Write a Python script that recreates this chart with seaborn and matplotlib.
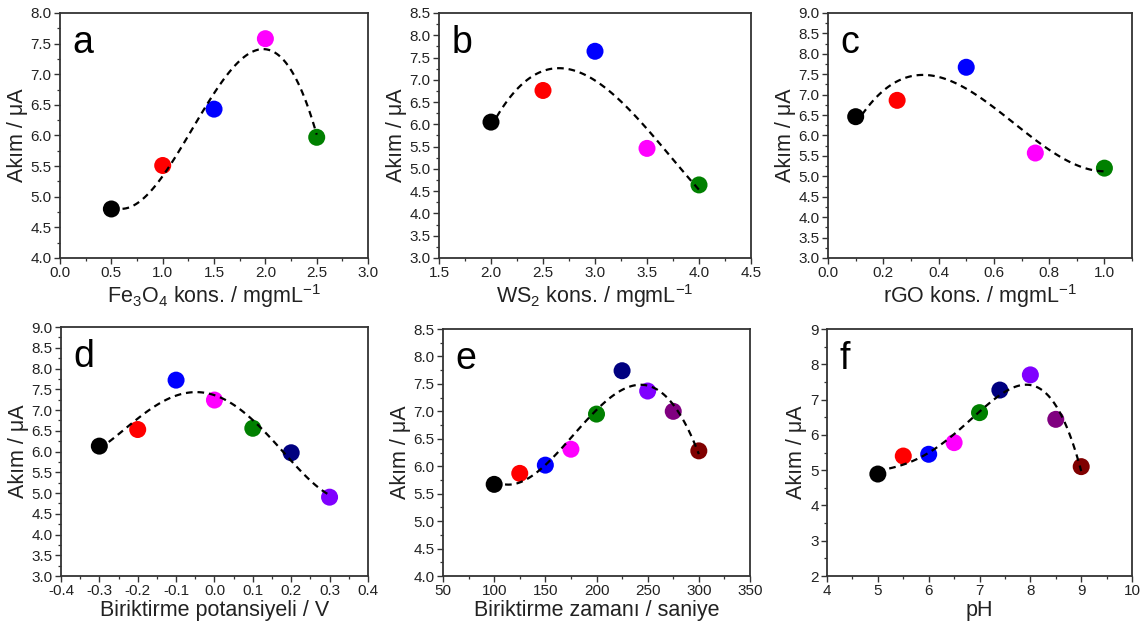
import numpy as np
import pandas as pd
import matplotlib
matplotlib.use("Agg")
import matplotlib.pyplot as plt
from matplotlib.ticker import MultipleLocator, AutoMinorLocator, FuncFormatter
import seaborn as sns

sns.set_theme(style="white")
plt.rcParams["font.family"] = ["Liberation Sans", "DejaVu Sans"]
plt.rcParams["mathtext.fontset"] = "custom"
plt.rcParams["mathtext.rm"] = "Liberation Sans"
plt.rcParams["mathtext.default"] = "regular"

# --- data -------------------------------------------------------------
fe3o4_x = [0.5, 1.0, 1.5, 2.0, 2.5]
fe3o4_y = [4.80, 5.51, 6.43, 7.58, 5.97]

ws2_x = [2.0, 2.5, 3.0, 3.5, 4.0]
ws2_y = [6.05, 6.76, 7.64, 5.46, 4.64]

rgo_x = [0.1, 0.25, 0.5, 0.75, 1.0]
rgo_y = [6.46, 6.86, 7.67, 5.57, 5.20]

pot_x = [-0.3, -0.2, -0.1, 0.0, 0.1, 0.2, 0.3]
pot_y = [6.13, 6.53, 7.72, 7.24, 6.56, 5.97, 4.90]

time_x = [100, 125, 150, 175, 200, 225, 250, 275, 300]
time_y = [5.67, 5.87, 6.02, 6.31, 6.95, 7.74, 7.37, 7.00, 6.28]

ph_x = [5.0, 5.5, 6.0, 6.5, 7.0, 7.4, 8.0, 8.5, 9.0]
ph_y = [4.89, 5.40, 5.45, 5.78, 6.63, 7.27, 7.70, 6.44, 5.10]

point_colors = ["#000000", "#ff0000", "#0000ff", "#ff00ff", "#008000",
                "#000080", "#8000ff", "#800080", "#800000"]

x_labels = [
    "Fe$_3$O$_4$ kons. / mgmL$^{-1}$",
    "WS$_2$ kons. / mgmL$^{-1}$",
    "rGO kons. / mgmL$^{-1}$",
    "Biriktirme potansiyeli / V",
    "Biriktirme zaman\u0131 / saniye",
    "pH",
]
y_label = "Ak\u0131m / \u03bcA"
panel_letters = ["a", "b", "c", "d", "e", "f"]

# --- layout (figure fractions: left, bottom, width, height) -----------
fig = plt.figure(figsize=(11.48, 6.23), dpi=100)
rects = [
    (0.0523, 0.5859, 0.2683, 0.3933),
    (0.3824, 0.5859, 0.2718, 0.3933),
    (0.7213, 0.5859, 0.2648, 0.3933),
    (0.0531, 0.0754, 0.2674, 0.3997),
    (0.3859, 0.0754, 0.2674, 0.3965),
    (0.7204, 0.0754, 0.2657, 0.3965),
]

panels = [
    dict(x=fe3o4_x, y=fe3o4_y, order=3, xlim=(0, 3.0), xstep=0.5, ylim=(4.0, 8.0), ystep=0.5),
    dict(x=ws2_x, y=ws2_y, order=3, xlim=(1.5, 4.5), xstep=0.5, ylim=(3.0, 8.5), ystep=0.5),
    dict(x=rgo_x, y=rgo_y, order=3, xlim=(0, 1.1), xstep=0.2, ylim=(3.0, 9.0), ystep=0.5),
    dict(x=pot_x, y=pot_y, order=4, xlim=(-0.4, 0.4), xstep=0.1, ylim=(3.0, 9.0), ystep=0.5),
    dict(x=time_x, y=time_y, order=4, xlim=(50, 350), xstep=50, ylim=(4.0, 8.5), ystep=0.5),
    dict(x=ph_x, y=ph_y, order=4, xlim=(4, 10), xstep=1, ylim=(2, 9), ystep=1),
]


def step_format(step):
    fmt = "{:.0f}" if step >= 1 else "{:.1f}"
    return FuncFormatter(lambda v, _: fmt.format(v + 0.0))


spine_color = "#333333"
text_color = "#222222"
for i, (rect, p) in enumerate(zip(rects, panels)):
    ax = fig.add_axes(rect)
    n = len(p["x"])
    df = pd.DataFrame({"x": p["x"], "y": p["y"], "k": list(range(n))})
    sns.scatterplot(data=df, x="x", y="y", hue="k", palette=point_colors[:n],
                    s=150, edgecolor="none", legend=False, ax=ax, zorder=2)
    sns.regplot(data=df, x="x", y="y", order=p["order"], scatter=False, ci=None,
                truncate=True, ax=ax,
                line_kws=dict(color="black", lw=1.6, ls=(0, (3.0, 2.2)), zorder=3))

    ax.set_xlim(*p["xlim"])
    ax.set_ylim(*p["ylim"])
    ax.xaxis.set_major_locator(MultipleLocator(p["xstep"]))
    ax.yaxis.set_major_locator(MultipleLocator(p["ystep"]))
    ax.xaxis.set_minor_locator(AutoMinorLocator(2))
    ax.yaxis.set_minor_locator(AutoMinorLocator(2))
    ax.xaxis.set_major_formatter(step_format(p["xstep"]))
    ax.yaxis.set_major_formatter(step_format(p["ystep"]))

    ax.tick_params(axis="both", which="major", direction="out", length=4, width=1.0,
                   color=spine_color, labelsize=11, labelcolor=text_color, pad=2,
                   bottom=True, left=True, top=False, right=False)
    ax.tick_params(axis="both", which="minor", direction="out", length=2, width=0.9,
                   color=spine_color, bottom=True, left=True, top=False, right=False)
    for s in ax.spines.values():
        s.set_color(spine_color)
        s.set_linewidth(1.3)

    ax.set_xlabel(x_labels[i], fontsize=15.5, color=text_color, labelpad=1)
    ax.set_ylabel(y_label, fontsize=15.5, color=text_color, labelpad=2)
    ax.text(0.04, 0.95, panel_letters[i], transform=ax.transAxes, fontsize=27,
            va="top", ha="left", color="black")

fig.savefig("out.png", dpi=100, facecolor="white")
